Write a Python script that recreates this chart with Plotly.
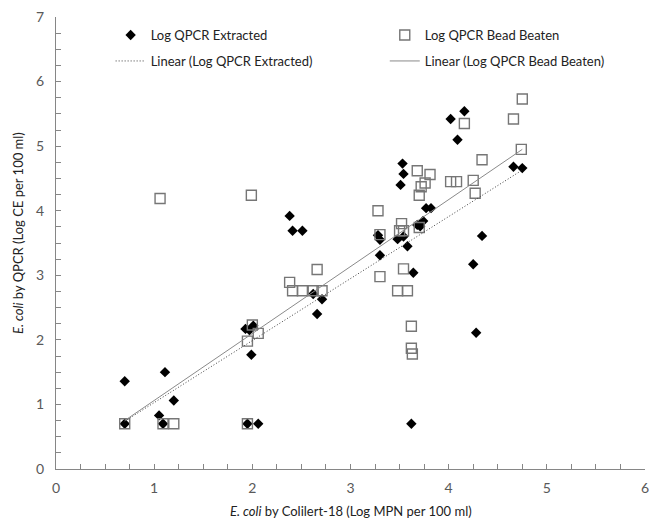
import plotly.graph_objects as go

# Log QPCR Extracted (diamonds)
ext_x = [0.70, 0.70, 1.05, 1.09, 1.11, 1.20, 1.93, 1.97, 2.01, 1.95, 2.06, 1.99,
         2.38, 2.41, 2.51, 2.62, 2.71, 2.66, 3.28, 3.30, 3.30, 3.53, 3.54, 3.51,
         3.48, 3.54, 3.58, 3.64, 3.62, 3.68, 3.71, 3.74, 3.77, 3.82, 4.02, 4.16,
         4.09, 4.25, 4.28, 4.34, 4.66, 4.75]
ext_y = [1.36, 0.70, 0.83, 0.70, 1.50, 1.06, 2.17, 2.15, 2.22, 0.70, 0.70, 1.77,
         3.92, 3.69, 3.69, 2.71, 2.63, 2.40, 3.62, 3.55, 3.31, 4.73, 4.57, 4.40,
         3.56, 3.60, 3.45, 3.04, 0.70, 3.78, 3.76, 3.84, 4.04, 4.04, 5.42, 5.54,
         5.10, 3.17, 2.11, 3.61, 4.68, 4.66]

# Log QPCR Bead Beaten (squares)
bb_x = [0.70, 1.09, 1.20, 1.06, 1.95, 1.99, 2.00, 2.06, 1.95, 2.38, 2.41, 2.51,
        2.62, 2.71, 2.66, 3.28, 3.30, 3.30, 3.52, 3.50, 3.54, 3.48, 3.58, 3.54,
        3.62, 3.62, 3.63, 3.68, 3.81, 3.76, 3.72, 3.70, 3.70, 4.02, 4.08, 4.25,
        4.27, 4.16, 4.34, 4.66, 4.75, 4.74]
bb_y = [0.70, 0.70, 0.70, 4.19, 0.70, 4.24, 2.23, 2.10, 1.98, 2.89, 2.76, 2.76,
        2.76, 2.76, 3.09, 4.00, 3.63, 2.98, 3.80, 3.69, 3.69, 2.76, 2.76, 3.10,
        2.21, 1.87, 1.78, 4.62, 4.56, 4.43, 4.37, 4.24, 3.74, 4.45, 4.45, 4.47,
        4.27, 5.35, 4.79, 5.42, 5.73, 4.95]

# Linear trendlines (end points)
trend_x = [0.70, 4.75]
trend_ext_y = [0.74, 4.63]
trend_bb_y = [0.75, 4.95]

x_ticks = [0, 1, 2, 3, 4, 5, 6]
y_ticks = [0, 1, 2, 3, 4, 5, 6, 7]

x_title = "<i>E. coli</i> by Colilert-18 (Log MPN per 100 ml)"
y_title = "<i>E. coli</i> by QPCR (Log CE per 100 ml)"

FONT = "Lato"
TXT = dict(family=FONT, size=13, color="#222222")

fig = go.Figure()
fig.add_trace(go.Scatter(x=ext_x, y=ext_y, mode="markers", name="Log QPCR Extracted",
                         marker=dict(symbol="diamond", size=8, color="black"),
                         legend="legend", showlegend=True))
fig.add_trace(go.Scatter(x=bb_x, y=bb_y, mode="markers", name="Log QPCR Bead Beaten",
                         marker=dict(symbol="square-open", size=10, color="#767676",
                                     line=dict(width=1.4, color="#767676")),
                         legend="legend2", showlegend=True))
fig.add_trace(go.Scatter(x=trend_x, y=trend_ext_y, mode="lines", name="Linear (Log QPCR Extracted)",
                         line=dict(color="#404040", width=1, dash="1px,2px"),
                         legend="legend3", showlegend=True))
fig.add_trace(go.Scatter(x=trend_x, y=trend_bb_y, mode="lines", name="Linear (Log QPCR Bead Beaten)",
                         line=dict(color="#8a8a8a", width=1),
                         legend="legend4", showlegend=True))

axis_common = dict(showgrid=False, zeroline=False, showline=True, linecolor="#868686",
                   linewidth=1, ticks="inside", ticklen=5, tickcolor="#868686",
                   ticklabeloverflow="allow",
                   tickfont=dict(family=FONT, size=14, color="#595959"))

W, H = 653, 521
L, R, T, B = 56, 4, 17, 52
PW, PH = W - L - R, H - T - B


def px_x(p):
    return (p - L) / PW


def px_y(p):
    return (H - B - p) / PH


def leg(xpx, ypx):
    return dict(visible=True, x=px_x(xpx), xanchor="left", y=px_y(ypx), yanchor="middle",
                bgcolor="rgba(0,0,0,0)", borderwidth=0, font=TXT)


fig.update_layout(
    width=W, height=H,
    margin=dict(l=L, r=R, t=T, b=B),
    paper_bgcolor="white", plot_bgcolor="white",
    font=TXT,
    showlegend=True,
    xaxis=dict(range=[0, 6], tickvals=x_ticks, ticklabelstandoff=6,
               minor=dict(dtick=0.25, ticks="inside", ticklen=5, tickcolor="#868686"),
               **axis_common),
    yaxis=dict(range=[0, 7], tickvals=y_ticks, ticklabelstandoff=8,
               minor=dict(dtick=0.25, ticks="inside", ticklen=5, tickcolor="#868686"),
               **axis_common),
    legend=leg(111, 35),
    legend2=leg(387, 35),
    legend3=leg(111, 61),
    legend4=leg(387, 61),
    annotations=[
        dict(text=x_title, xref="paper", yref="paper", x=0.5, y=0, yanchor="middle",
             yshift=-42, showarrow=False, font=TXT),
        dict(text=y_title, xref="paper", yref="paper", x=0, y=0.5, xanchor="center",
             xshift=-38, yshift=10, textangle=-90, showarrow=False, font=TXT),
    ],
)

fig.write_html("out.html")
